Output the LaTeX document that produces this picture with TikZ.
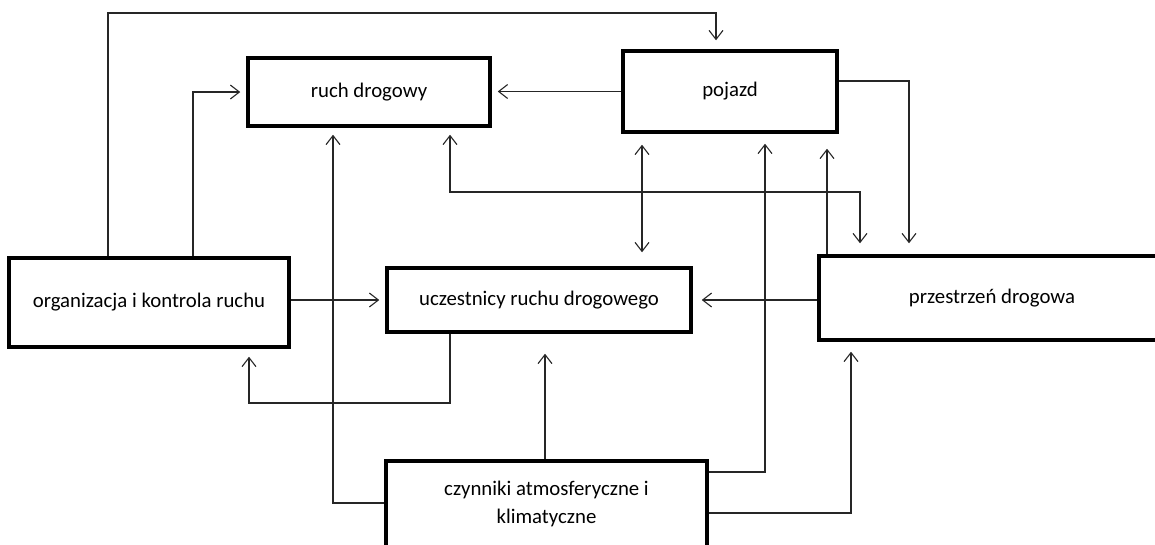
\documentclass[tikz,border=0pt]{standalone}
\usepackage{fontspec}
\setmainfont{Carlito}
\usetikzlibrary{arrows.meta}
\begin{document}
\begin{tikzpicture}[x=1pt,y=-1pt,
  box/.style={draw=black,line width=3.5pt,rectangle,inner sep=0pt,
    font=\fontsize{20.8}{27.5}\selectfont,text=black,align=center},
  arr/.style={draw=black!85,line width=1.1pt,-{Straight Barb[length=9pt,width=14pt,line width=1.1pt]}},
  arrtwo/.style={draw=black!85,line width=1.1pt,{Straight Barb[length=9pt,width=14pt,line width=1.1pt]}-{Straight Barb[length=9pt,width=14pt,line width=1.1pt]}}]
\useasboundingbox (0,0) rectangle (1155,544);
\clip (0,0) rectangle (1155,544);
\fill[white] (0,0) rectangle (1155,544);

\node[box,minimum width=242pt,minimum height=68pt] (ruch) at (369,92) {ruch drogowy};
\node[box,minimum width=214pt,minimum height=81pt] (pojazd) at (730,91.5) {pojazd};
\node[box,minimum width=280pt,minimum height=89pt] (org) at (149,302.5) {organizacja i kontrola ruchu};
\node[box,minimum width=304pt,minimum height=64pt] (ucz) at (539,300) {uczestnicy ruchu\ drogowego};
\node[box,minimum width=346pt,minimum height=84pt] (przes) at (992,298) {przestrzeń drogowa};
\node[box,minimum width=321pt,minimum height=86pt] (czyn) at (546.5,504) {czynniki atmosferyczne i\\klimatyczne};

% organizacja -> pojazd (top loop)
\draw[arr,shorten >=9pt] (org.north -| 108,0) |- (716,13) -- (pojazd.north -| 716,0);
% organizacja -> ruch drogowy
\draw[arr,shorten >=6pt] (org.north -| 193,0) |- (ruch.west);
% pojazd -> ruch drogowy
\draw[arr,shorten >=6pt] (pojazd.west) -- (ruch.east |- pojazd.west);
% pojazd -> przestrzen
\draw[arr,shorten >=11pt] (pojazd.east |- 0,81) -| (przes.north -| 909,0);
% pojazd <-> uczestnicy
\draw[arrtwo,shorten <=11pt,shorten >=14pt] (pojazd.south -| 642,0) -- (ucz.north -| 642,0);
% czynniki -> ruch drogowy
\draw[arr,shorten >=7pt] (czyn.west |- 0,503) -| (ruch.south -| 333,0);
% ruch drogowy <-> przestrzen
\draw[arrtwo,shorten <=7pt,shorten >=11pt] (ruch.south -| 450,0) |- (860,192) -- (przes.north -| 860,0);
% czynniki -> pojazd
\draw[arr,shorten >=10pt] (czyn.east |- 0,472) -| (pojazd.south -| 765,0);
% przestrzen -> pojazd
\draw[arr,shorten >=15pt] (przes.north -| 827,0) -- (pojazd.south -| 827,0);
% organizacja -> uczestnicy
\draw[arr,shorten >=6pt] (org.east |- ucz.west) -- (ucz.west);
% przestrzen -> uczestnicy
\draw[arr,shorten >=9pt] (przes.west |- ucz.east) -- (ucz.east);
% uczestnicy -> organizacja
\draw[arr,shorten >=8pt] (ucz.south -| 450,0) |- (249,403) -- (org.south -| 249,0);
% czynniki -> uczestnicy
\draw[arr,shorten >=20pt] (czyn.north -| 545,0) -- (ucz.south -| 545,0);
% czynniki -> przestrzen
\draw[arr,shorten >=10pt] (czyn.east |- 0,513) -| (przes.south -| 851,0);
\end{tikzpicture}
\end{document}
